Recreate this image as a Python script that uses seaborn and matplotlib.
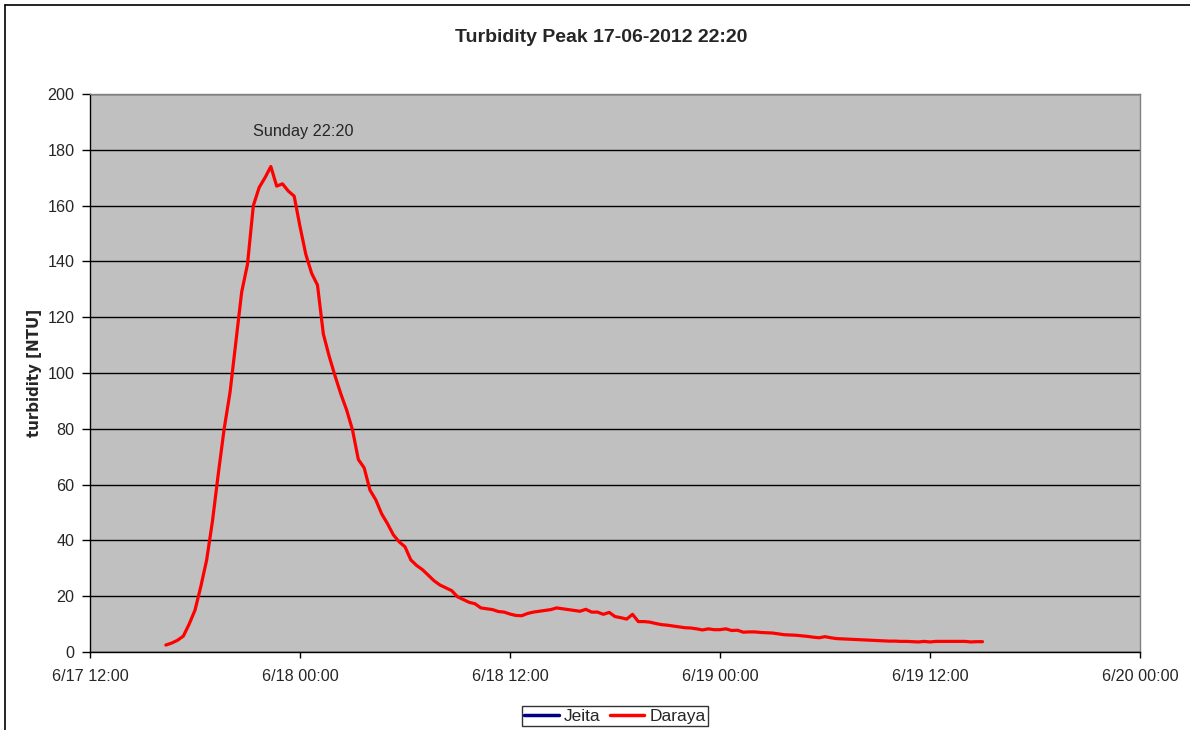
import matplotlib
matplotlib.use("Agg")
import matplotlib.pyplot as plt
import matplotlib.dates as mdates
from matplotlib.lines import Line2D
import pandas as pd
import seaborn as sns

# Daraya turbidity, one reading every 20 minutes from 6/17 16:20 to 6/19 15:00
daraya_start = "2012-06-17 16:20"
daraya_values = [
    2.5, 3.2, 4.2, 5.7, 10.0, 15.0, 23.5, 33.0, 47.0, 64.0,
    80.0, 93.0, 111.0, 129.0, 139.0, 160.0, 166.5, 170.0, 174.0, 167.0,
    167.8, 165.2, 163.4, 152.5, 142.5, 135.7, 131.5, 114.0, 106.0, 99.0,
    92.5, 86.7, 79.6, 69.0, 66.0, 58.0, 54.5, 49.5, 46.0, 42.0,
    39.5, 37.7, 33.0, 31.0, 29.5, 27.5, 25.5, 24.0, 23.0, 22.0,
    19.8, 18.8, 17.8, 17.3, 15.8, 15.5, 15.2, 14.5, 14.3, 13.6,
    13.1, 13.0, 13.8, 14.3, 14.6, 14.9, 15.2, 15.8, 15.5, 15.2,
    14.9, 14.6, 15.3, 14.3, 14.3, 13.5, 14.2, 12.7, 12.3, 11.8,
    13.5, 10.9, 10.9, 10.7, 10.2, 9.8, 9.6, 9.3, 9.0, 8.7,
    8.6, 8.3, 7.9, 8.3, 8.0, 8.0, 8.3, 7.7, 7.8, 7.1,
    7.2, 7.2, 7.0, 6.9, 6.8, 6.5, 6.2, 6.1, 6.0, 5.8,
    5.6, 5.3, 5.1, 5.5, 5.1, 4.8, 4.7, 4.6, 4.5, 4.4,
    4.3, 4.2, 4.1, 4.0, 3.9, 3.9, 3.8, 3.8, 3.7, 3.6,
    3.8, 3.6, 3.8, 3.8, 3.8, 3.8, 3.8, 3.8, 3.6, 3.7,
    3.7,
]
# Jeita has no readings in this window
jeita_times = []
jeita_values = []

x_start = pd.Timestamp("2012-06-17 12:00")
x_end = pd.Timestamp("2012-06-20 00:00")
y_ticks = [0, 20, 40, 60, 80, 100, 120, 140, 160, 180, 200]

df = pd.DataFrame({
    "time": pd.date_range(daraya_start, periods=len(daraya_values), freq="20min"),
    "turbidity": daraya_values,
})

sns.set_style("white")
plt.rcParams["font.family"] = ["Liberation Sans", "DejaVu Sans"]

fig = plt.figure(figsize=(11.9, 7.3), dpi=100)
ax = fig.add_axes([90 / 1190, 1 - 652 / 730, 1050 / 1190, 558 / 730])
ax.set_facecolor("#c0c0c0")

ax.plot(jeita_times, jeita_values, color="#000080", lw=2.2, label="Jeita")
sns.lineplot(data=df, x="time", y="turbidity", color="#ff0000", lw=2.3,
             label="Daraya", ax=ax, legend=False)

ax.set_xlim(x_start, x_end)
ax.set_ylim(0, 200)
ax.set_yticks(y_ticks)
ax.xaxis.set_major_locator(mdates.HourLocator(byhour=[0, 12]))
ax.xaxis.set_major_formatter(
    plt.FuncFormatter(lambda v, p: (lambda d: f"{d.month}/{d.day} {d:%H:%M}")(mdates.num2date(v)))
)
ax.yaxis.grid(True, color="black", lw=1)
ax.xaxis.grid(False)
ax.set_axisbelow(True)

ax.tick_params(axis="x", direction="out", length=4, width=1, color="black",
               labelsize=11.6, pad=8, bottom=True)
ax.tick_params(axis="y", direction="out", length=6, width=1, color="black",
               labelsize=11.6, pad=5, left=True)
for side in ["left", "bottom"]:
    ax.spines[side].set_color("black")
    ax.spines[side].set_linewidth(1)
for side in ["top", "right"]:
    ax.spines[side].set_color("#808080")
    ax.spines[side].set_linewidth(1)

ax.set_xlabel("")
ax.set_ylabel("turbidity [NTU]", fontsize=10.8, fontweight="bold",
              family="DejaVu Sans", labelpad=4)

ax.text(0.203, 0.932, "Sunday 22:20", transform=ax.transAxes,
        ha="center", va="center", fontsize=11.7)

fig.text(601 / 1190, 1 - 38 / 730, "Turbidity Peak 17-06-2012 22:20",
         ha="center", va="center", fontsize=14, fontweight="bold")

handles = [Line2D([], [], color="#000080", lw=2.5),
           Line2D([], [], color="#ff0000", lw=2.5)]
leg = fig.legend(handles, ["Jeita", "Daraya"], loc="center",
                 bbox_to_anchor=(615 / 1190, 1 - 716 / 730), ncol=2,
                 fontsize=12.5, frameon=True, fancybox=False, handlelength=2.0,
                 handletextpad=0.3, columnspacing=0.5, borderpad=0.15,
                 borderaxespad=0)
leg.get_frame().set_edgecolor("black")
leg.get_frame().set_linewidth(1)

# outer chart border (left and top edges visible)
fig.add_artist(Line2D([5 / 1190, 5 / 1190], [0, 1 - 5 / 730],
                      transform=fig.transFigure, color="black", lw=1.2))
fig.add_artist(Line2D([5 / 1190, 1], [1 - 5 / 730, 1 - 5 / 730],
                      transform=fig.transFigure, color="black", lw=1.2))

fig.savefig("out.png", dpi=100)
